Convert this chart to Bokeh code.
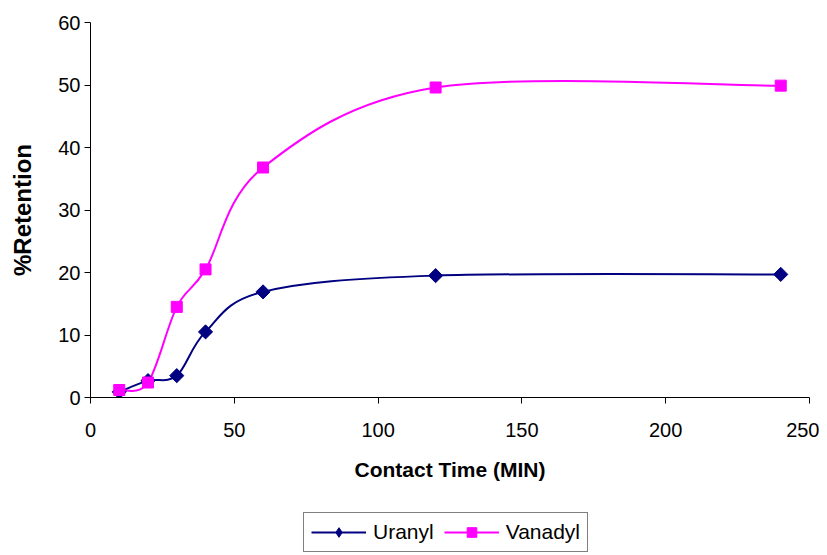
import math
from bokeh.plotting import figure
from bokeh.layouts import column
from bokeh.models import Range1d, SingleIntervalTicker, Legend, LegendItem, ColumnDataSource
from bokeh.embed import file_html
from bokeh.resources import INLINE

# ---- data ----
contact_time = [10, 20, 30, 40, 60, 120, 240]
uranyl = [0.9, 2.7, 3.5, 10.5, 16.9, 19.5, 19.7]
vanadyl = [1.2, 2.4, 14.5, 20.5, 36.8, 49.6, 49.9]
series_names = ["Uranyl", "Vanadyl"]

FONT = "Liberation Sans"
NAVY = "#000080"
MAGENTA = "#FF00FF"

p = figure(width=819, height=505, output_backend="svg", toolbar_location=None,
           x_range=Range1d(0, 250), y_range=Range1d(0, 60),
           min_border_left=90, min_border_top=22, min_border_right=10,
           min_border_bottom=108)
p.outline_line_color = None
p.grid.visible = False
p.background_fill_color = "white"
p.border_fill_color = "white"

p.xaxis.ticker = SingleIntervalTicker(interval=50)
p.yaxis.ticker = SingleIntervalTicker(interval=10)
for ax in (p.xaxis, p.yaxis):
    ax.axis_line_color = "black"
    ax.major_tick_line_color = "black"
    ax.minor_tick_line_color = None
    ax.major_tick_out = 6
    ax.major_tick_in = 0
    ax.major_label_text_font = FONT
    ax.major_label_text_font_size = "20px"
    ax.major_label_text_color = "black"
    ax.axis_label_text_font = FONT
    ax.axis_label_text_font_style = "bold"
    ax.axis_label_text_color = "black"

p.xaxis.axis_label = "Contact Time (MIN)"
p.xaxis.axis_label_text_font_size = "21px"
p.xaxis.major_label_standoff = 19
p.xaxis.axis_label_standoff = 18

p.yaxis.axis_label = "%Retention"
p.yaxis.axis_label_text_font_size = "24px"
p.yaxis.major_label_standoff = 4
p.yaxis.axis_label_standoff = 19


def smooth_segments(xs, ys):
    """Excel-style smoothed line: cubic Bezier control points (Catmull-Rom, 1/6)."""
    n = len(xs)
    seg = dict(x0=[], y0=[], x1=[], y1=[], cx0=[], cy0=[], cx1=[], cy1=[])
    for i in range(n - 1):
        im1 = max(i - 1, 0)
        ip2 = min(i + 2, n - 1)
        seg["x0"].append(xs[i]); seg["y0"].append(ys[i])
        seg["x1"].append(xs[i + 1]); seg["y1"].append(ys[i + 1])
        seg["cx0"].append(xs[i] + (xs[i + 1] - xs[im1]) / 6.0)
        seg["cy0"].append(ys[i] + (ys[i + 1] - ys[im1]) / 6.0)
        seg["cx1"].append(xs[i + 1] - (xs[ip2] - xs[i]) / 6.0)
        seg["cy1"].append(ys[i + 1] - (ys[ip2] - ys[i]) / 6.0)
    return ColumnDataSource(seg)


p.bezier(x0="x0", y0="y0", x1="x1", y1="y1", cx0="cx0", cy0="cy0",
         cx1="cx1", cy1="cy1", source=smooth_segments(contact_time, uranyl),
         line_color=NAVY, line_width=2)
p.bezier(x0="x0", y0="y0", x1="x1", y1="y1", cx0="cx0", cy0="cy0",
         cx1="cx1", cy1="cy1", source=smooth_segments(contact_time, vanadyl),
         line_color=MAGENTA, line_width=2)

p.scatter(contact_time, uranyl, marker="square", angle=math.pi / 4, size=10,
          fill_color=NAVY, line_color=NAVY)
p.scatter(contact_time, vanadyl, marker="square", size=11,
          fill_color=MAGENTA, line_color=MAGENTA)

# ---- legend strip (separate figure below the chart, same side borders) ----
# Its series renderers sit outside this strip's visible y-range, so only the
# legend (which samples their styles) shows.
lg = figure(width=819, height=50, output_backend="svg", toolbar_location=None,
            x_range=Range1d(0, 250), y_range=Range1d(-2, -1),
            min_border_left=90, min_border_top=0, min_border_right=10,
            min_border_bottom=0)
lg.axis.visible = False
lg.grid.visible = False
lg.outline_line_color = None
lg.border_fill_color = "white"
lg.background_fill_color = "white"

lu = lg.line(contact_time, uranyl, line_color=NAVY, line_width=2)
lus = lg.scatter(contact_time, uranyl, marker="diamond", fill_color=NAVY, line_color=NAVY)
lv = lg.line(contact_time, vanadyl, line_color=MAGENTA, line_width=2)
lvs = lg.scatter(contact_time, vanadyl, marker="square", fill_color=MAGENTA, line_color=MAGENTA)

legend = Legend(items=[LegendItem(label=series_names[0], renderers=[lu, lus]),
                       LegendItem(label=series_names[1], renderers=[lv, lvs])],
                orientation="horizontal", location=(213, 3),
                margin=0, padding=7, spacing=10, glyph_width=55, glyph_height=24,
                label_standoff=7, label_text_font=FONT, label_text_font_size="21px",
                label_text_color="black", border_line_color="black",
                border_line_width=1, background_fill_color="white")
lg.add_layout(legend, "center")

layout = column(p, lg, spacing=0)
open("out.html", "w").write(file_html(layout, INLINE))
